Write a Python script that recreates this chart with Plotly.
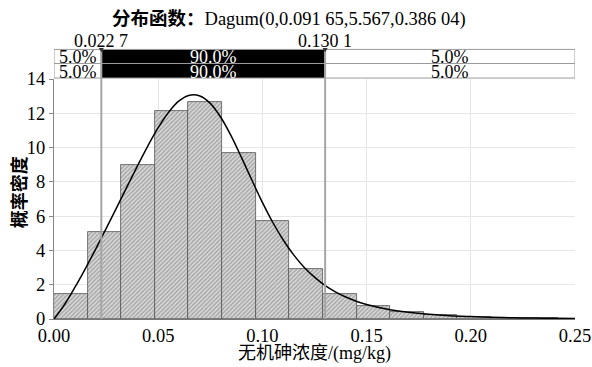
import plotly.graph_objects as go

# ---- data ----
bin_edges = [0.0, 0.0161, 0.0323, 0.0484, 0.0645, 0.0806, 0.0968, 0.1129, 0.1290,
             0.1452, 0.1613, 0.1774, 0.1935, 0.2097, 0.2258, 0.2419]
bin_density = [1.45, 5.05, 8.97, 12.15, 12.63, 9.70, 5.70, 2.93, 1.46,
               0.76, 0.39, 0.21, 0.11, 0.06, 0.04]

curve_x = [0.0, 0.005, 0.010, 0.015, 0.020, 0.025, 0.030, 0.035, 0.040, 0.045,
           0.050, 0.055, 0.060, 0.065, 0.070, 0.075, 0.080, 0.085, 0.090, 0.095,
           0.100, 0.105, 0.110, 0.115, 0.120, 0.125, 0.130, 0.135, 0.140, 0.145,
           0.150, 0.160, 0.170, 0.180, 0.190, 0.200, 0.210, 0.220, 0.230, 0.240, 0.250]
curve_y = [0.0, 0.83, 1.84, 2.93, 4.08, 5.27, 6.48, 7.71, 8.92, 10.09,
           11.16, 12.06, 12.72, 13.05, 13.01, 12.58, 11.77, 10.68, 9.41, 8.09,
           6.80, 5.63, 4.61, 3.74, 3.02, 2.44, 1.96, 1.58, 1.28, 1.04,
           0.85, 0.57, 0.39, 0.27, 0.19, 0.14, 0.10, 0.074, 0.055, 0.042, 0.032]

pct_lo, pct_hi = 0.0227, 0.1301
pct_labels = ["0.022 7", "0.130 1"]
band_texts = ["5.0%", "90.0%", "5.0%"]
title_text = "<b>分布函数：</b>Dagum(0,0.091 65,5.567,0.386 04)"
x_title = "无机砷浓度/(mg/kg)"
y_title = "<b>概率密度</b>"
x_ticks = [0.0, 0.05, 0.10, 0.15, 0.20, 0.25]
x_range = [0, 0.25]
y_range = [0, 14]

FONT = "'Liberation Serif', 'Noto Sans CJK SC', serif"

widths = [bin_edges[i + 1] - bin_edges[i] for i in range(len(bin_density))]
centers = [bin_edges[i] + widths[i] / 2 for i in range(len(bin_density))]

fig = go.Figure()
fig.add_trace(go.Bar(
    x=centers, y=bin_density, width=widths,
    marker=dict(color="#d4d4d4",
                pattern=dict(shape="/", fgcolor="#6e6e6e", bgcolor="#d9d9d9", size=3, solidity=0.45),
                line=dict(color="#555555", width=0.8)),
    showlegend=False, hoverinfo="skip"))
fig.add_trace(go.Scatter(
    x=curve_x, y=curve_y, mode="lines", line=dict(color="black", width=1.5, shape="spline"),
    showlegend=False, hoverinfo="skip"))

# band geometry (paper coords)
b0, b1, b2 = 1.004, 1.0646, 1.1233
segs = [(x_range[0], pct_lo, "white", "black"),
        (pct_lo, pct_hi, "black", "white"),
        (pct_hi, x_range[1], "white", "black")]
shapes = []
annotations = []
for (ya, yb) in [(b0, b1), (b1, b2)]:
    for (xa, xb, fill, tcol), txt in zip(segs, band_texts):
        shapes.append(dict(type="rect", xref="x", yref="paper", x0=xa, x1=xb, y0=ya, y1=yb,
                           fillcolor=fill, line=dict(color="#9a9a9a", width=1), layer="above"))
        annotations.append(dict(x=(xa + xb) / 2, y=(ya + yb) / 2 - 0.004, xref="x", yref="paper",
                                text=txt, showarrow=False, yanchor="middle",
                                font=dict(family=FONT, size=18, color=tcol)))

for xv, lab in zip([pct_lo, pct_hi], pct_labels):
    shapes.append(dict(type="line", xref="x", yref="paper", x0=xv, x1=xv, y0=0, y1=b2,
                       line=dict(color="#a6a6a6", width=2), layer="above"))
    shapes.append(dict(type="path", xref="x", yref="paper",
                       path=f"M {xv-0.0012},{b2+0.006} L {xv+0.0012},{b2+0.006} L {xv},{b2-0.012} Z",
                       fillcolor="#333333", line=dict(width=0), layer="above"))
    annotations.append(dict(x=xv, y=1.157, xref="x", yref="paper", text=lab, showarrow=False,
                            yanchor="middle", font=dict(family=FONT, size=18, color="black")))

annotations.append(dict(x=0.452, y=1.248, xref="paper", yref="paper", text=title_text,
                        showarrow=False, yanchor="middle", xanchor="center",
                        font=dict(family=FONT, size=18.5, color="black")))
annotations.append(dict(x=0.5, y=-0.142, xref="paper", yref="paper", text=x_title,
                        showarrow=False, yanchor="middle", xanchor="center",
                        font=dict(family=FONT, size=18, color="black")))
annotations.append(dict(x=-0.066, y=0.527, xref="paper", yref="paper", text=y_title,
                        showarrow=False, yanchor="middle", xanchor="center", textangle=-90,
                        font=dict(family=FONT, size=18, color="black")))

fig.update_layout(
    width=592, height=367,
    margin=dict(l=54, r=17, t=79, b=48, autoexpand=False),
    paper_bgcolor="white", plot_bgcolor="white",
    bargap=0, shapes=shapes, annotations=annotations,
    font=dict(family=FONT, size=18, color="black"),
    xaxis=dict(range=x_range, tickvals=x_ticks, tickformat=".2f", showgrid=True,
               gridcolor="#e6e6e6", gridwidth=1, zeroline=False, showline=True, automargin=False,
               linecolor="#777777", linewidth=1, ticks="", tickfont=dict(family=FONT, size=18.5)),
    yaxis=dict(range=y_range, dtick=2, showgrid=True, gridcolor="#e6e6e6", gridwidth=1,
               zeroline=False, showline=True, linecolor="#888888", linewidth=1, automargin=False,
               ticks="outside", ticklen=4, tickcolor="#888888",
               tickfont=dict(family=FONT, size=18.5)),
)

fig.write_html("out.html", config={"displayModeBar": False},
               post_script="document.body.style.margin='0';document.body.style.overflow='hidden';")
